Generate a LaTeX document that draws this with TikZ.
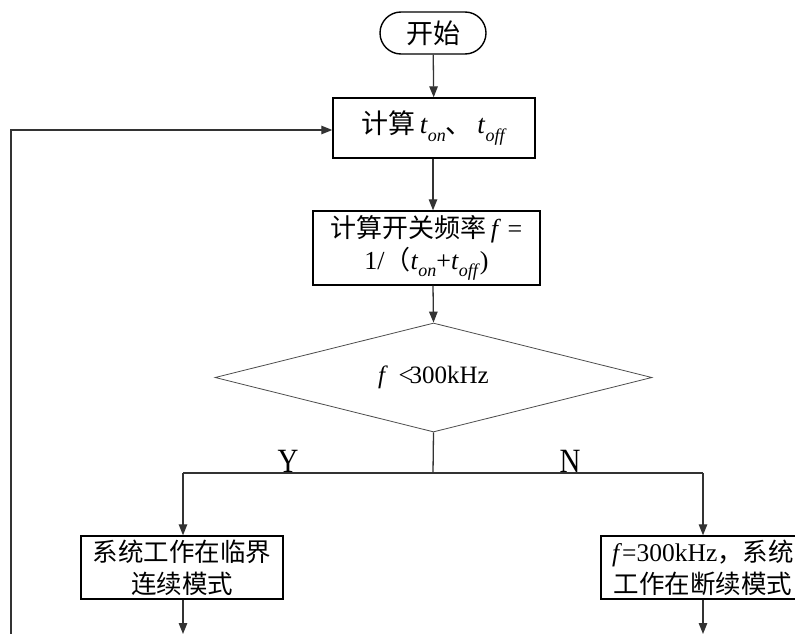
\documentclass[tikz,border=0pt]{standalone}
\usepackage{fontspec}
\setmainfont{Liberation Serif}
\newfontfamily\cjk{Noto Sans CJK SC}
\usetikzlibrary{shapes.geometric,shapes.misc,arrows.meta}
\newcommand\tvar[2]{\textit{t}\raisebox{-0.28em}{\fontsize{#2}{#2}\selectfont\textit{#1}}}
\tikzset{
  box/.style={draw=black, line width=1.4pt, inner sep=0pt, align=center},
  conn/.style={draw=black!80, line width=1.3pt},
  arr/.style={conn, -{Triangle[length=11pt,width=8.5pt]}},
  lbl/.style={inner sep=0pt, xscale=0.85, font=\fontsize{34}{34}\selectfont},
}
\begin{document}
\begin{tikzpicture}[x=1pt,y=-1pt]
\useasboundingbox (0,0) rectangle (795,634);
\clip (0,0) rectangle (795,634);
\node[box, rounded rectangle, minimum width=106pt, minimum height=42pt,
      font=\fontsize{27}{30}\selectfont\cjk] (start) at (433,33) {开始};
\node[box, minimum width=202pt, minimum height=60pt,
      font=\fontsize{27}{30}\selectfont] (b1) at (434,128)
      {{\cjk 计算}\,\tvar{on}{18}{\cjk 、}\,\tvar{off}{18}};
\node[box, minimum width=227pt, minimum height=74pt,
      font=\fontsize{26}{32}\selectfont] (b2) at (426.5,248)
      {{\cjk 计算开关频率}\,\textit{f} =\\1/{\cjk （}\tvar{on}{18}+\tvar{off}{18})};
\node[draw=black!70, line width=0.8pt, diamond, aspect=4, minimum width=437pt, minimum height=109pt,
      inner sep=0pt, font=\fontsize{25}{28}\selectfont] (dec) at (433.5,377.5)
      {\textit{f}\ \ \kern-2pt<\kern-3pt300kHz};
\coordinate (j) at (433,473);
\coordinate (jl) at (183,473);
\coordinate (jr) at (703,473);
\node[lbl] (ylab) at (288,461) {Y};
\node[lbl] (nlab) at (570,461) {N};
\node[box, minimum width=202pt, minimum height=63pt,
      font=\fontsize{25.5}{32}\selectfont\cjk] (b3) at (182,567.5)
      {系统工作在临界\\连续模式};
\node[box, minimum width=204pt, minimum height=63pt,
      font=\fontsize{25.5}{32}\selectfont] (b4) at (703,567.5)
      {\textit{f}=300kHz{\cjk ，系统}\\{\cjk 工作在断续模式}};
\coordinate (e3) at (183,634);
\coordinate (e4) at (703,634);
\coordinate (fb) at (11,634);
\draw[arr] (start) -- (b1);
\draw[arr] (b1.south -| start) -- (b2.north -| start);
\draw[arr] (b2.south -| start) -- (dec.north);
\draw[conn] (dec.south) -- (j);
\draw[conn] (jl) -- (jr);
\draw[arr] (jl) -- (b3.north -| jl);
\draw[arr] (jr) -- (b4.north -| jr);
\draw[arr] (b3.south -| e3) -- (e3);
\draw[arr] (b4.south -| e4) -- (e4);
\draw[arr] (fb) |- ([yshift=-2pt]b1.west);
\end{tikzpicture}
\end{document}
